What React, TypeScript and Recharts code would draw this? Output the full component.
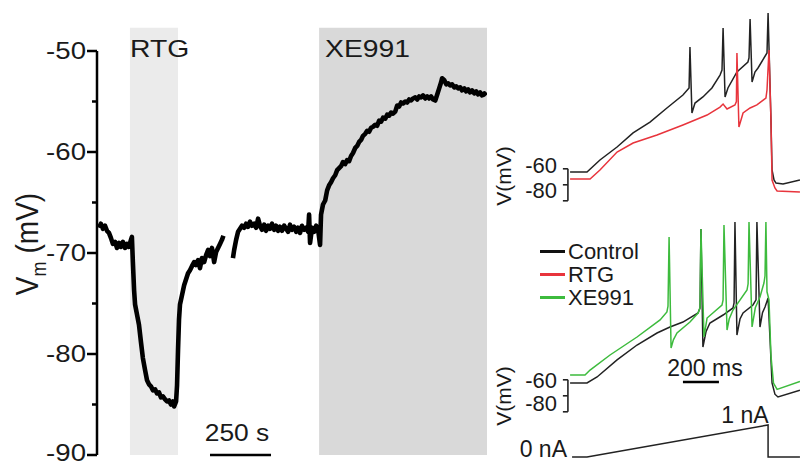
import React from 'react';
import { LineChart, Line, XAxis, YAxis, ReferenceArea, ReferenceLine } from 'recharts';

// ---------- Left panel: membrane potential over time (s, mV) ----------
const MAIN_T1 = [0, 8, 16, 25, 33, 41, 49, 57, 66, 74, 82, 90, 98, 107, 115, 123, 131, 135, 139, 144, 148, 156, 164, 172, 180, 189, 197, 205, 213, 221, 230, 238, 246, 254, 262, 271, 279, 287, 295, 303, 308, 316, 320, 324, 328, 332, 340, 349, 357, 365, 373, 381, 390, 398, 406, 414, 422, 431, 439, 447, 455, 463, 472, 480, 488, 496, 504, 510];
const MAIN_V1 = [-67.5, -67.1, -67.6, -67.3, -67.8, -68.0, -68.5, -69.1, -68.9, -69.5, -69.0, -69.4, -68.9, -69.5, -69.1, -69.4, -68.7, -68.4, -70.9, -73.7, -75.1, -76.1, -77.1, -78.8, -80.4, -81.6, -82.6, -83.0, -83.2, -83.6, -83.5, -83.9, -83.8, -84.3, -84.2, -84.5, -84.7, -84.6, -85.0, -84.7, -85.2, -84.7, -83.1, -79.6, -76.6, -75.1, -74.2, -73.2, -72.6, -72.0, -71.7, -71.3, -70.9, -71.2, -70.7, -71.5, -70.5, -70.9, -70.2, -69.7, -70.3, -69.5, -70.9, -69.9, -69.5, -69.1, -68.7, -68.3];
const MAIN_T2 = [549, 554, 562, 570, 578, 586, 595, 603, 611, 619, 627, 636, 644, 652, 660, 668, 677, 685, 693, 701, 709, 718, 726, 734, 742, 750, 759, 767, 775, 783, 791, 800, 808, 816, 824, 832, 841, 849, 857, 861, 865, 873, 882, 890, 898, 906, 910, 918, 927, 935, 943, 951, 959, 968, 976, 984, 992, 1000, 1009, 1017, 1025, 1033, 1041, 1050, 1058, 1066, 1074, 1082, 1091, 1099, 1107, 1115, 1123, 1132, 1140, 1148, 1156, 1164, 1173, 1181, 1189, 1197, 1205, 1214, 1222, 1230, 1238, 1246, 1255, 1263, 1271, 1279, 1287, 1296, 1304, 1312, 1320, 1328, 1337, 1345, 1353, 1361, 1369, 1378, 1386, 1394, 1402, 1406, 1415, 1423, 1431, 1439, 1447, 1456, 1464, 1472, 1480, 1488, 1497, 1505, 1513, 1521, 1529, 1538, 1546, 1554, 1562, 1570, 1579, 1587];
const MAIN_V2 = [-70.5, -69.7, -68.7, -67.9, -67.6, -67.3, -67.5, -67.1, -67.4, -66.9, -67.3, -67.1, -67.5, -66.6, -67.3, -67.7, -67.2, -67.8, -67.3, -67.6, -67.1, -67.7, -67.3, -67.8, -67.4, -67.8, -67.3, -67.6, -67.9, -67.2, -67.7, -67.4, -67.9, -67.5, -68.0, -67.3, -67.7, -67.5, -67.9, -66.2, -69.0, -67.5, -67.9, -67.3, -67.7, -69.2, -66.2, -65.2, -64.8, -63.8, -63.3, -63.0, -62.6, -62.3, -61.8, -61.6, -61.4, -61.0, -61.2, -60.8, -60.9, -60.4, -60.1, -59.6, -59.4, -59.0, -58.8, -58.4, -58.2, -57.9, -58.0, -57.6, -57.5, -57.3, -57.4, -56.9, -57.0, -56.6, -56.7, -56.3, -56.4, -56.1, -56.2, -56.0, -55.4, -55.5, -55.1, -55.2, -55.0, -55.1, -54.8, -54.9, -54.7, -54.6, -54.8, -54.5, -54.6, -54.4, -54.7, -54.5, -54.7, -54.5, -54.8, -54.9, -54.3, -53.7, -53.1, -52.7, -52.9, -53.3, -53.2, -53.4, -53.3, -53.6, -53.5, -53.7, -53.6, -53.9, -53.7, -54.0, -53.8, -54.1, -53.9, -54.2, -54.0, -54.3, -54.1, -54.4, -54.2, -54.4];
const MAIN_TICKS = [-90, -85, -80, -75, -70, -65, -60, -55, -50];
const RTG_WINDOW = [127, 324];
const XE_WINDOW = [902, 1590];
const SCALE_250S = [455, 705];

// ---------- Right panels: ramp responses (ms, mV) ----------
const TOP_CTRL_T = [-94, 0, 72, 167, 256, 350, 444, 533, 567, 572, 583, 600, 644, 694, 739, 750, 756, 767, 783, 833, 894, 900, 906, 917, 933, 950, 1000, 1006, 1022, 1028, 1039, 1050, 1089, 1183];
const TOP_CTRL_V = [-62, -62, -54.5, -46.4, -37.6, -30.8, -22, -13.9, -9.5, 16.1, -25.1, -18.9, -15.1, -9.5, -1.4, 1.75, 28, -15.1, -9.5, 0.5, 6.75, 9.25, 33.6, -5.75, 0.5, 3, 12.4, 37.4, -29.5, -60.75, -67, -68.9, -69.5, -67];
const TOP_RTG_T = [-94, 17, 72, 167, 256, 389, 533, 667, 739, 756, 778, 822, 830, 833, 844, 867, 906, 944, 994, 1000, 1011, 1022, 1028, 1044, 1056, 1183];
const TOP_RTG_V = [-66.4, -66.4, -60.75, -49.5, -43.9, -38.9, -32.6, -26.4, -21.4, -19.5, -22.6, -20.1, -18, 12.4, -33.9, -25.1, -22, -20.1, -15.75, -10.75, 14.25, -29.5, -67, -72, -73.9, -74.5];
const BOT_CTRL_T = [-94, 0, 56, 167, 278, 389, 461, 533, 617, 628, 633, 644, 661, 683, 756, 811, 817, 822, 833, 850, 867, 922, 939, 944, 961, 975, 989, 1006, 1017, 1028, 1044, 1061, 1183];
const BOT_CTRL_V = [-62, -62, -58.25, -47.6, -38.25, -30.75, -27, -23.9, -18.25, -15, 34.25, -39.5, -30, -24.5, -19.5, -15.1, -12, 38.6, -32, -22, -18.25, -13.25, -10, 38.6, -27, -18, -14.5, -8.9, -35, -62, -69, -70.75, -66.5];
const BOT_XE_T = [-94, -11, 17, 128, 278, 406, 444, 450, 456, 467, 480, 500, 572, 617, 628, 633, 650, 667, 750, 756, 761, 778, 790, 811, 889, 895, 900, 917, 935, 961, 983, 989, 994, 1000, 1011, 1022, 1036, 1056, 1183];
const BOT_XE_V = [-57, -57, -53.9, -44.5, -33.25, -22.6, -17.6, -14, 29.25, -40.1, -35, -30.75, -23.9, -18.25, -15, 34.25, -33.25, -21.4, -13.25, -10, 36.75, -28.9, -22, -16.4, -3.9, 0, 38.6, -27, -15, -8.25, 0.5, 5, 38.6, -5, -10, -45, -62, -66, -61];
const CURRENT_T = [-83, 0, 1006, 1006, 1183];
const CURRENT_NA = [0, 0, 1, 0, 0];
const SCALE_200MS = [533, 733];
const BRACKET_MV = [-60, -70, -80];

const LEGEND_ITEMS = [
  { label: 'Control', color: '#111111' },
  { label: 'RTG', color: '#e8343c' },
  { label: 'XE991', color: '#3dbb3d' },
];

const zip = (ts: number[], vs: number[]) => ts.map((t, i) => ({ t, v: vs[i] }));

const FONT = '"Liberation Sans", Arial, Helvetica, sans-serif';
const TXT = '#1a1a1a';

const MainTick = (props: any) => {
  const { x, y, payload } = props;
  const v = payload.value;
  const major = v % 10 === 0;
  const ty = v === -90 ? y - 2 : y;
  return (
    <g>
      <line x1={x - (major ? 10 : 5)} x2={x} y1={y} y2={y} stroke="#000" strokeWidth={2.5} />
      {major && (
        <text
          x={0}
          y={0}
          transform={`translate(${x - 11},${ty}) scale(1.15,1)`}
          textAnchor="end"
          dominantBaseline="central"
          fontSize={24}
          fontFamily={FONT}
          fill={TXT}
        >
          {v}
        </text>
      )}
    </g>
  );
};

const Txt = ({ x, y, anchor = 'start', size = 23, sx = 1, children }: any) => {
  const tx = anchor === 'start' ? '0' : anchor === 'end' ? '-100%' : '-50%';
  const origin = anchor === 'start' ? 'left center' : anchor === 'end' ? 'right center' : 'center center';
  return (
    <div
      style={{
        position: 'absolute',
        left: x,
        top: y,
        fontSize: size,
        lineHeight: 1,
        whiteSpace: 'nowrap',
        color: TXT,
        transformOrigin: origin,
        transform: `translate(${tx},-50%) scaleX(${sx})`,
      }}
    >
      {children}
    </div>
  );
};

const RotTxt = ({ x, y, size = 20, sx = 1, children }: any) => (
  <div
    style={{
      position: 'absolute',
      left: x,
      top: y,
      fontSize: size,
      lineHeight: 1,
      whiteSpace: 'nowrap',
      color: TXT,
      transformOrigin: 'center center',
      transform: `translate(-50%,-50%) scaleX(${sx}) rotate(-90deg)`,
    }}
  >
    {children}
  </div>
);

const RIGHT_X_DOMAIN: [number, number] = [-150, 1183.33];
const RIGHT_Y_DOMAIN: [number, number] = [-82, 43];

const Bracket = () => (
  <>
    <ReferenceLine
      segment={[{ x: -106, y: BRACKET_MV[0] }, { x: -106, y: BRACKET_MV[2] }]}
      stroke="#222"
      strokeWidth={1.6}
      ifOverflow="visible"
    />
    {BRACKET_MV.map((m) => (
      <ReferenceLine
        key={m}
        segment={[{ x: -134, y: m }, { x: -106, y: m }]}
        stroke="#222"
        strokeWidth={1.6}
        ifOverflow="visible"
      />
    ))}
  </>
);

export default function App() {
  const seg1 = zip(MAIN_T1, MAIN_V1);
  const seg2 = zip(MAIN_T2, MAIN_V2);
  return (
    <div
      style={{
        position: 'absolute',
        left: 0,
        top: 0,
        width: 800,
        height: 466,
        background: '#fff',
        fontFamily: FONT,
        overflow: 'hidden',
      }}
    >
      {/* Left panel */}
      <div style={{ position: 'absolute', left: 0, top: 0 }}>
        <LineChart width={500} height={466} margin={{ top: 51, right: 13, bottom: 11, left: 0 }}>
          <XAxis type="number" dataKey="t" domain={[-8, 1590]} hide allowDataOverflow />
          <YAxis
            type="number"
            domain={[-90, -50]}
            ticks={MAIN_TICKS}
            interval={0}
            width={97}
            tickLine={false}
            tickSize={0}
            tickMargin={0}
            axisLine={{ stroke: '#000', strokeWidth: 2.5 }}
            tick={<MainTick />}
            allowDataOverflow
          />
          <ReferenceArea x1={RTG_WINDOW[0]} x2={RTG_WINDOW[1]} y1={-90} y2={-47.7} fill="#ebebeb" fillOpacity={1} stroke="none" ifOverflow="visible" />
          <ReferenceArea x1={XE_WINDOW[0]} x2={XE_WINDOW[1]} y1={-90} y2={-47.7} fill="#d9d9d9" fillOpacity={1} stroke="none" ifOverflow="visible" />
          <ReferenceLine
            segment={[{ x: SCALE_250S[0], y: -90 }, { x: SCALE_250S[1], y: -90 }]}
            stroke="#000"
            strokeWidth={2.5}
            ifOverflow="visible"
          />
          <Line data={seg1} dataKey="v" stroke="#000" strokeWidth={4.6} strokeLinejoin="round" dot={false} isAnimationActive={false} type="linear" />
          <Line data={seg2} dataKey="v" stroke="#000" strokeWidth={4.6} strokeLinejoin="round" dot={false} isAnimationActive={false} type="linear" />
        </LineChart>
      </div>

      {/* Right top panel: Control vs RTG */}
      <div style={{ position: 'absolute', left: 560, top: 4 }}>
        <LineChart width={240} height={200} margin={{ top: 0, right: 0, bottom: 0, left: 0 }}>
          <XAxis type="number" dataKey="t" domain={RIGHT_X_DOMAIN} hide allowDataOverflow />
          <YAxis type="number" domain={RIGHT_Y_DOMAIN} hide allowDataOverflow width={0} />
          {Bracket()}
          <Line data={zip(TOP_CTRL_T, TOP_CTRL_V)} dataKey="v" stroke="#222" strokeWidth={1.5} dot={false} isAnimationActive={false} type="linear" />
          <Line data={zip(TOP_RTG_T, TOP_RTG_V)} dataKey="v" stroke="#e8343c" strokeWidth={1.5} dot={false} isAnimationActive={false} type="linear" />
        </LineChart>
      </div>

      {/* Right bottom panel: Control vs XE991 */}
      <div style={{ position: 'absolute', left: 560, top: 215 }}>
        <LineChart width={240} height={200} margin={{ top: 0, right: 0, bottom: 0, left: 0 }}>
          <XAxis type="number" dataKey="t" domain={RIGHT_X_DOMAIN} hide allowDataOverflow />
          <YAxis type="number" domain={RIGHT_Y_DOMAIN} hide allowDataOverflow width={0} />
          {Bracket()}
          <ReferenceLine
            segment={[{ x: SCALE_200MS[0], y: -61.4 }, { x: SCALE_200MS[1], y: -61.4 }]}
            stroke="#000"
            strokeWidth={2.5}
            ifOverflow="visible"
          />
          <Line data={zip(BOT_CTRL_T, BOT_CTRL_V)} dataKey="v" stroke="#222" strokeWidth={1.5} dot={false} isAnimationActive={false} type="linear" />
          <Line data={zip(BOT_XE_T, BOT_XE_V)} dataKey="v" stroke="#3dbb3d" strokeWidth={1.5} dot={false} isAnimationActive={false} type="linear" />
        </LineChart>
      </div>

      {/* Current ramp */}
      <div style={{ position: 'absolute', left: 560, top: 417 }}>
        <LineChart width={240} height={48} margin={{ top: 0, right: 0, bottom: 0, left: 0 }}>
          <XAxis type="number" dataKey="t" domain={RIGHT_X_DOMAIN} hide allowDataOverflow />
          <YAxis type="number" domain={[-0.25, 1.25]} hide allowDataOverflow width={0} />
          <Line data={zip(CURRENT_T, CURRENT_NA)} dataKey="v" stroke="#222" strokeWidth={1.5} dot={false} isAnimationActive={false} type="linear" />
        </LineChart>
      </div>

      {/* Legend */}
      <div style={{ position: 'absolute', left: 540, top: 240 }}>
        {LEGEND_ITEMS.map((it) => (
          <div key={it.label} style={{ display: 'flex', alignItems: 'center', height: 23, fontSize: 22, lineHeight: 1, color: TXT }}>
            <span style={{ display: 'inline-block', width: 25, height: 2.5, background: it.color, marginRight: 3 }} />
            <span>{it.label}</span>
          </div>
        ))}
      </div>

      {/* Texts: left panel */}
      <Txt x={130} y={49} size={24} sx={1.18}>RTG</Txt>
      <Txt x={325} y={49} size={24} sx={1.18}>XE991</Txt>
      <Txt x={237} y={433} size={24} sx={1.1} anchor="middle">250 s</Txt>
      <RotTxt x={28} y={244} size={28} sx={1.15}>
        V<span style={{ fontSize: 18, position: 'relative', top: 7, marginRight: 8 }}>m</span>(mV)
      </RotTxt>

      {/* Texts: right panels */}
      <RotTxt x={503} y={176} size={21}>V(mV)</RotTxt>
      <Txt x={557} y={166} size={22} anchor="end">-60</Txt>
      <Txt x={557} y={191} size={22} anchor="end">-80</Txt>
      <RotTxt x={503} y={396} size={21}>V(mV)</RotTxt>
      <Txt x={557} y={381} size={22} anchor="end">-60</Txt>
      <Txt x={557} y={404} size={22} anchor="end">-80</Txt>
      <Txt x={705} y={368} size={23} anchor="middle">200 ms</Txt>
      <Txt x={745} y={415} size={23} anchor="middle">1 nA</Txt>
      <Txt x={567} y={449} size={23} anchor="end">0 nA</Txt>
    </div>
  );
}
